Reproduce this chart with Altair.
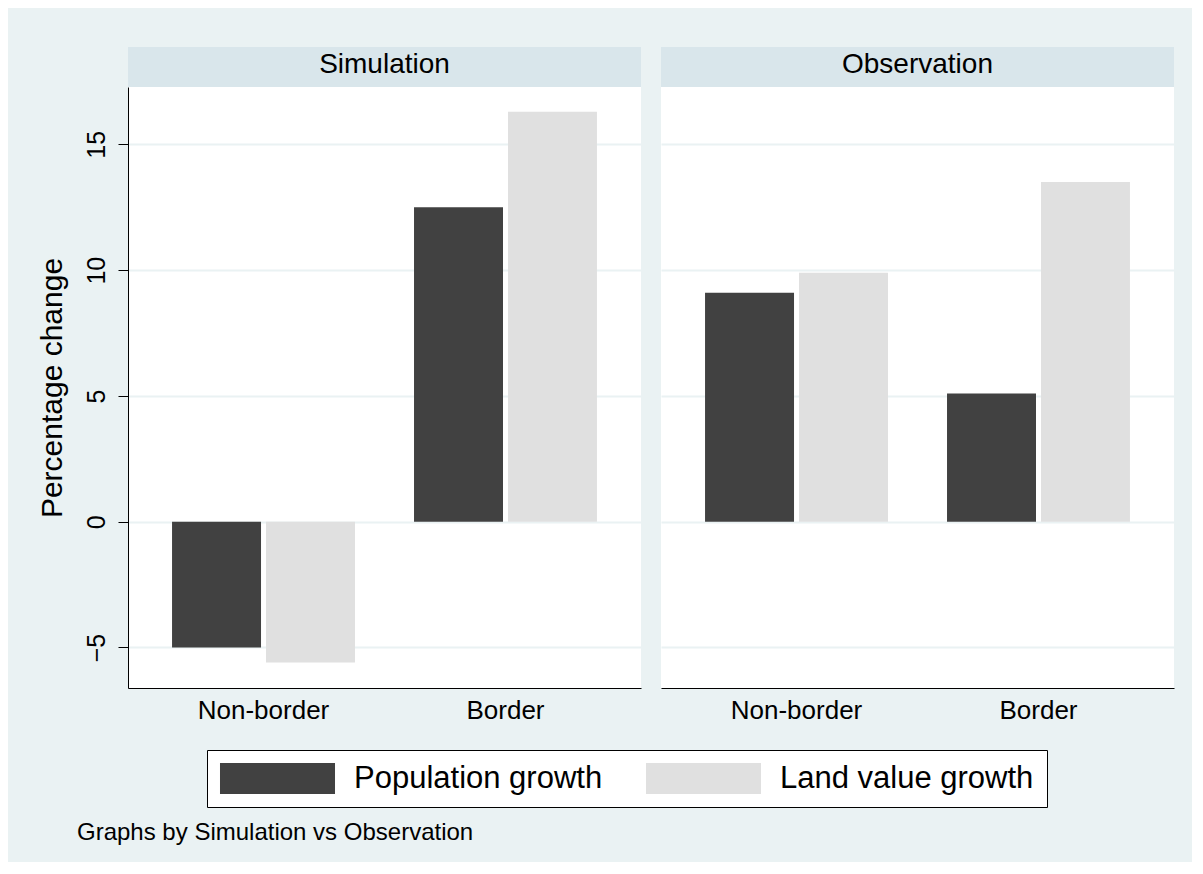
import altair as alt
import pandas as pd

# ---- data ----
panels = ["Simulation", "Observation"]
categories = ["Non-border", "Border"]
series = ["Population growth", "Land value growth"]
sim_pop = [-5.0, 12.5]
sim_land = [-5.6, 16.3]
obs_pop = [9.1, 5.1]
obs_land = [9.9, 13.5]
y_ticks = [-5, 0, 5, 10, 15]
y_title = "Percentage change"
footer = "Graphs by Simulation vs Observation"

rows = []
for panel, pop, land in zip(panels, [sim_pop, obs_pop], [sim_land, obs_land]):
    for cat, p, l in zip(categories, pop, land):
        rows.append({"panel": panel, "category": cat, "series": series[0], "value": p})
        rows.append({"panel": panel, "category": cat, "series": series[1], "value": l})
df = pd.DataFrame(rows)

FONT = "Liberation Sans"
BG = "#EAF2F3"
STRIP = "#D9E6EB"
W, H = 513, 601
HEADER_H = 40
Y_DOMAIN = [-6.61, 17.28]

color = alt.Color(
    "series:N",
    sort=series,
    scale=alt.Scale(domain=series, range=["#414141", "#E0E0E0"]),
    legend=alt.Legend(
        orient="none",
        legendX=79,
        legendY=703,
        direction="horizontal",
        title=None,
        symbolType="M-3.71,-1H3.71V1H-3.71Z",
        symbolSize=961,
        symbolStrokeWidth=0,
        symbolOffset=42,
        labelOffset=61,
        labelFont=FONT,
        labelFontSize=31,
        labelColor="black",
        labelLimit=500,
        columnPadding=42,
        padding=13,
        strokeColor="black",
        fillColor="white",
    ),
)


def make_panel(name, first):
    sub = df[df["panel"] == name]
    header = (
        alt.Chart(pd.DataFrame({"panel": [name]}))
        .mark_text(font=FONT, fontSize=28, color="black", baseline="middle")
        .encode(x=alt.value(W / 2), y=alt.value(17.6), text="panel:N")
        .properties(width=W, height=HEADER_H,
                    view=alt.ViewBackground(fill=STRIP, strokeWidth=0))
    )
    if first:
        yaxis = alt.Axis(
            values=y_ticks, grid=True, gridColor=BG, gridWidth=2,
            domainColor="black", tickColor="black", tickSize=10,
            labelAngle=270, labelAlign="center", labelBaseline="bottom",
            labelFont=FONT, labelFontSize=25, labelColor="black", labelPadding=9,
            title=y_title, titleFont=FONT, titleFontSize=30,
            titleFontWeight="normal", titleColor="black", titlePadding=17,
        )
    else:
        yaxis = alt.Axis(
            values=y_ticks, grid=True, gridColor=BG, gridWidth=2,
            labels=False, ticks=False, domain=False, title=None,
        )
    bars = (
        alt.Chart(sub)
        .mark_bar()
        .encode(
            x=alt.X(
                "category:N", sort=categories,
                scale=alt.Scale(paddingInner=0.244, paddingOuter=0.182),
                axis=alt.Axis(labelAngle=0, ticks=False, tickSize=0, domainColor="black",
                              labelFont=FONT, labelFontSize=26, labelColor="black",
                              labelPadding=9, title=None, grid=False),
            ),
            xOffset=alt.XOffset("series:N", sort=series,
                                scale=alt.Scale(paddingInner=0.053, paddingOuter=0)),
            y=alt.Y("value:Q", scale=alt.Scale(domain=Y_DOMAIN, nice=False, zero=False),
                    axis=yaxis),
            y2=alt.datum(0),
            color=color,
        )
        .properties(width=W, height=H,
                    view=alt.ViewBackground(fill="white", strokeWidth=0))
    )
    return alt.vconcat(header, bars, spacing=0)


chart = (
    alt.hconcat(make_panel(panels[0], True), make_panel(panels[1], False), spacing=20)
    .properties(
        background=BG,
        padding={"left": 29, "top": 39, "right": 18, "bottom": 17},
        title=alt.TitleParams(
            text=footer, orient="bottom", anchor="start", font=FONT, fontSize=24,
            fontWeight="normal", color="black", offset=13, dx=40,
        ),
    )
    .configure_view(strokeWidth=0)
)

chart.save("out.html", embed_options={"renderer": "svg", "actions": False})
